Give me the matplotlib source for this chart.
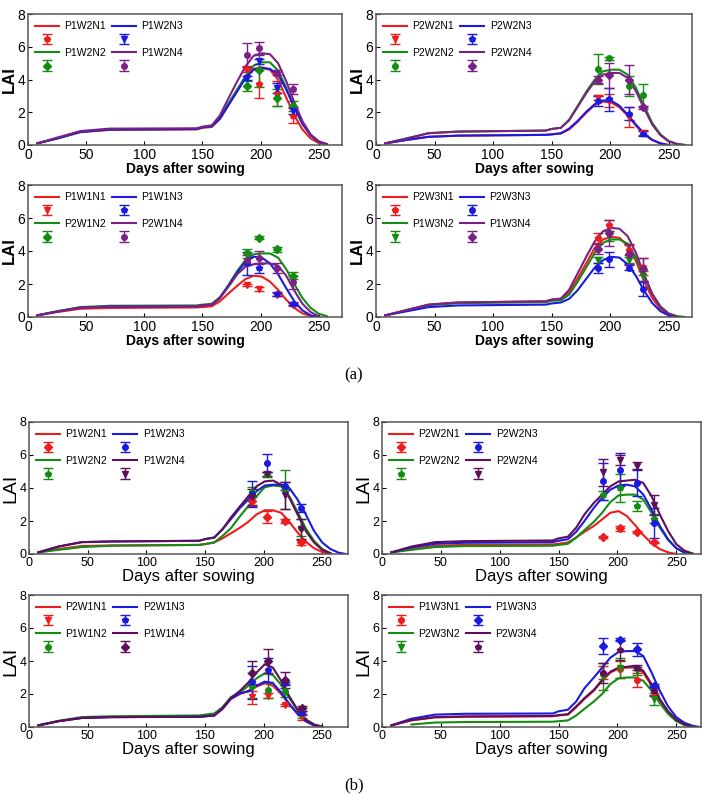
import numpy as np
import matplotlib.pyplot as plt

plt.rcParams['font.family'] = ['Liberation Sans', 'DejaVu Sans']

# common day grid of the simulated curves
days = [8, 25, 45, 70, 145, 150, 158, 165, 172, 180, 187, 194, 201, 208, 215,
        222, 229, 236, 243, 250, 257, 264, 270]
n = np.nan

# ---- (a) ----
a1_names = ['P1W2N1', 'P1W2N2', 'P1W2N3', 'P1W2N4']
a1_sim = [
    [0.1, 0.4, 0.78, 0.92, 0.95, 1.05, 1.1, 1.6, 2.4, 3.3, 4.1, 4.65, 4.75, 4.6, 4.0, 2.9, 1.8, 0.95, 0.4, 0.12, 0.02, n, n],
    [0.1, 0.4, 0.8, 0.95, 0.98, 1.08, 1.15, 1.65, 2.5, 3.4, 4.2, 4.85, 5.05, 5.05, 4.55, 3.5, 2.3, 1.3, 0.6, 0.2, 0.05, n, n],
    [0.1, 0.4, 0.8, 0.95, 0.98, 1.08, 1.15, 1.6, 2.4, 3.3, 4.1, 4.6, 4.7, 4.65, 4.3, 3.4, 2.3, 1.3, 0.6, 0.2, 0.05, n, n],
    [0.1, 0.45, 0.85, 1.0, 1.02, 1.12, 1.2, 1.8, 2.8, 3.9, 4.8, 5.45, 5.6, 5.55, 5.0, 3.9, 2.6, 1.45, 0.65, 0.22, 0.05, n, n],
]
a1_obs_days = [188, 199, 214, 228]
a1_obs = [[4.65, 3.7, 3.15, 1.8], [3.6, 4.55, 2.9, 2.4], [4.1, 5.1, 3.5, 2.1], [5.5, 5.9, 4.4, 3.4]]
a1_err = [[0.2, 0.85, 0.75, 0.45], [0.3, 1.0, 0.5, 0.3], [0.1, 0.15, 0.3, 0.2], [0.75, 0.4, 0.15, 0.3]]
a1_mk = ['p', 'D', 'v', 'o']

a2_names = ['P2W2N1', 'P2W2N2', 'P2W2N3', 'P2W2N4']
a2_sim = [
    [0.1, 0.3, 0.5, 0.57, 0.62, 0.65, 0.7, 0.95, 1.4, 2.0, 2.45, 2.65, 2.6, 2.3, 1.8, 1.2, 0.65, 0.3, 0.1, 0.0, n, n, n],
    [0.1, 0.38, 0.72, 0.82, 0.88, 0.98, 1.05, 1.55, 2.35, 3.3, 4.0, 4.5, 4.6, 4.6, 4.3, 3.5, 2.4, 1.35, 0.65, 0.25, 0.07, 0.0, n],
    [0.1, 0.3, 0.5, 0.57, 0.62, 0.65, 0.72, 1.0, 1.45, 2.05, 2.5, 2.72, 2.7, 2.4, 1.85, 1.25, 0.7, 0.32, 0.1, 0.0, n, n, n],
    [0.1, 0.38, 0.72, 0.82, 0.88, 0.98, 1.05, 1.5, 2.3, 3.2, 3.9, 4.3, 4.4, 4.4, 4.1, 3.3, 2.25, 1.25, 0.6, 0.22, 0.06, 0.0, n],
]
a2_obs_days = [190, 199, 216, 228]
a2_obs = [[2.9, 2.7, 1.7, 0.75], [4.65, 5.3, 3.6, 3.05], [2.7, 2.8, 1.9, 0.7], [4.0, 4.25, 4.0, 2.3]]
a2_err = [[0.15, 0.4, 0.6, 0.15], [0.9, 0.1, 0.6, 0.7], [0.3, 0.7, 0.4, 0.15], [0.2, 0.75, 0.9, 0.1]]
a2_mk = ['v', 'o', 'p', 'D']

a3_names = ['P1W1N1', 'P2W1N2', 'P1W1N3', 'P2W1N4']
a3_sim = [
    [0.1, 0.3, 0.5, 0.55, 0.58, 0.6, 0.65, 0.95, 1.4, 1.9, 2.3, 2.5, 2.45, 2.15, 1.65, 1.05, 0.55, 0.22, 0.06, 0.0, n, n, n],
    [0.1, 0.35, 0.6, 0.68, 0.7, 0.75, 0.8, 1.2, 1.9, 2.8, 3.45, 3.8, 3.85, 3.85, 3.6, 2.9, 2.0, 1.15, 0.55, 0.2, 0.05, n, n],
    [0.1, 0.33, 0.57, 0.63, 0.65, 0.7, 0.75, 1.15, 1.85, 2.7, 3.35, 3.65, 3.6, 3.25, 2.6, 1.75, 0.95, 0.4, 0.1, 0.0, n, n, n],
    [0.1, 0.33, 0.57, 0.63, 0.65, 0.7, 0.75, 1.15, 1.8, 2.6, 3.05, 3.2, 3.25, 3.25, 3.1, 2.5, 1.6, 0.8, 0.3, 0.05, n, n, n],
]
a3_obs_days = [188, 199, 214, 228]
a3_obs = [[1.93, 1.7, 1.35, 0.75], [3.85, 4.8, 4.1, 2.5], [3.25, 2.95, 1.4, 0.8], [3.45, 3.6, 2.95, 2.1]]
a3_err = [[0.05, 0.1, 0.1, 0.1], [0.3, 0.1, 0.15, 0.2], [0.7, 0.3, 0.1, 0.1], [0.3, 0.4, 0.3, 0.4]]
a3_mk = ['v', 'D', 'p', 'o']

a4_names = ['P2W3N1', 'P1W3N2', 'P2W3N3', 'P1W3N4']
a4_sim = [
    [0.1, 0.4, 0.75, 0.88, 0.95, 1.05, 1.1, 1.5, 2.3, 3.3, 4.2, 4.7, 4.85, 4.8, 4.3, 3.4, 2.2, 1.15, 0.5, 0.15, 0.02, n, n],
    [0.1, 0.38, 0.72, 0.84, 0.9, 0.98, 1.02, 1.35, 2.1, 3.05, 3.9, 4.5, 4.7, 4.7, 4.45, 3.6, 2.5, 1.4, 0.65, 0.22, 0.05, 0.0, n],
    [0.1, 0.33, 0.6, 0.7, 0.75, 0.82, 0.88, 1.1, 1.6, 2.35, 3.0, 3.45, 3.65, 3.6, 3.2, 2.5, 1.6, 0.85, 0.35, 0.1, 0.0, n, n],
    [0.1, 0.4, 0.75, 0.88, 0.95, 1.05, 1.12, 1.65, 2.6, 3.7, 4.6, 5.2, 5.4, 5.35, 4.9, 3.9, 2.6, 1.4, 0.6, 0.2, 0.04, n, n],
]
a4_obs_days = [190, 199, 216, 228]
a4_obs = [[4.8, 5.55, 4.05, 3.05], [3.45, 4.9, 3.45, 2.5], [2.95, 3.5, 3.0, 1.7], [4.1, 5.1, 3.8, 2.9]]
a4_err = [[0.3, 0.35, 0.3, 0.5], [0.2, 0.3, 0.2, 0.3], [0.3, 0.45, 0.15, 0.4], [0.3, 0.8, 0.6, 0.7]]
a4_mk = ['p', 'v', 'o', 'D']

# ---- (b) ----
b1_names = ['P1W2N1', 'P1W2N2', 'P1W2N3', 'P1W2N4']
b1_sim = [
    [0.1, 0.3, 0.48, 0.52, 0.55, 0.6, 0.7, 0.95, 1.25, 1.6, 1.95, 2.4, 2.65, 2.65, 2.5, 1.95, 1.3, 0.75, 0.35, 0.12, 0.02, n, n],
    [0.1, 0.25, 0.42, 0.5, 0.55, 0.6, 0.7, 1.1, 1.55, 2.3, 2.9, 3.5, 4.05, 4.15, 4.1, 3.5, 2.55, 1.55, 0.8, 0.3, 0.05, n, n],
    [0.1, 0.45, 0.72, 0.76, 0.8, 0.9, 1.0, 1.5, 2.1, 2.8, 3.3, 3.8, 4.15, 4.2, 4.2, 4.0, 3.3, 2.4, 1.4, 0.7, 0.3, 0.08, 0.0],
    [0.1, 0.45, 0.72, 0.76, 0.8, 0.9, 1.0, 1.5, 2.2, 2.9, 3.5, 4.1, 4.4, 4.45, 4.2, 3.4, 2.4, 1.4, 0.7, 0.25, 0.05, n, n],
]
b1_obs_days = [190, 203, 218, 232]
b1_obs = [[3.2, 2.25, 2.0, 0.7], [3.75, 4.8, 3.9, 1.6], [3.65, 5.5, 4.1, 2.8], [3.45, 4.85, 3.55, 1.5]]
b1_err = [[0.3, 0.35, 0.1, 0.15], [0.3, 0.15, 1.2, 0.5], [0.8, 0.55, 0.25, 0.25], [0.5, 0.1, 0.8, 0.6]]
b1_mk = ['D', 'p', 'o', 'v']

b2_names = ['P2W2N1', 'P2W2N2', 'P2W2N3', 'P2W2N4']
b2_sim = [
    [0.1, 0.3, 0.5, 0.55, 0.58, 0.62, 0.7, 1.0, 1.35, 1.7, 2.1, 2.5, 2.6, 2.3, 1.75, 1.15, 0.65, 0.3, 0.1, 0.0, n, n, n],
    [0.1, 0.25, 0.42, 0.48, 0.5, 0.55, 0.62, 1.0, 1.45, 1.95, 2.5, 3.15, 3.55, 3.6, 3.6, 3.3, 2.5, 1.6, 0.85, 0.35, 0.1, 0.0, n],
    [0.1, 0.4, 0.62, 0.68, 0.72, 0.8, 0.9, 1.35, 2.0, 2.8, 3.4, 3.9, 4.15, 4.2, 4.1, 3.6, 2.7, 1.7, 0.9, 0.35, 0.08, n, n],
    [0.1, 0.45, 0.72, 0.78, 0.82, 0.95, 1.05, 1.6, 2.4, 3.1, 3.6, 4.1, 4.4, 4.45, 4.5, 4.3, 3.5, 2.4, 1.4, 0.6, 0.2, 0.03, n],
]
b2_obs_days = [188, 202, 217, 231]
b2_obs = [[1.05, 1.55, 1.35, 0.7], [3.55, 4.0, 2.9, 2.15], [4.4, 5.1, 4.3, 1.9], [4.95, 5.7, 5.35, 2.95]]
b2_err = [[0.05, 0.15, 0.05, 0.05], [0.25, 0.85, 0.3, 0.3], [1.1, 1.0, 0.8, 0.9], [0.8, 0.3, 0.2, 0.6]]
b2_mk = ['D', 'p', 'o', 'v']

b3_names = ['P2W1N1', 'P1W1N2', 'P2W1N3', 'P1W1N4']
b3_sim = [
    [0.1, 0.35, 0.55, 0.6, 0.62, 0.65, 0.7, 1.1, 1.7, 2.0, 2.2, 2.45, 2.65, 2.5, 2.0, 1.35, 0.8, 0.35, 0.1, 0.0, n, n, n],
    [0.1, 0.37, 0.6, 0.65, 0.7, 0.75, 0.82, 1.2, 1.8, 2.1, 2.5, 2.95, 3.25, 3.15, 2.55, 1.75, 1.0, 0.45, 0.15, 0.02, n, n, n],
    [0.1, 0.35, 0.55, 0.6, 0.62, 0.65, 0.7, 1.1, 1.7, 2.05, 2.15, 2.5, 2.75, 2.65, 2.1, 1.4, 0.8, 0.35, 0.1, 0.0, n, n, n],
    [0.1, 0.35, 0.55, 0.6, 0.62, 0.65, 0.7, 1.15, 1.75, 2.2, 2.7, 3.3, 3.8, 3.6, 2.8, 1.85, 1.05, 0.45, 0.15, 0.02, n, n, n],
]
b3_obs_days = [190, 204, 218, 233]
b3_obs = [[1.8, 1.9, 1.35, 0.6], [2.5, 2.25, 2.2, 0.85], [2.7, 3.45, 2.65, 0.85], [3.3, 4.0, 2.85, 1.15]]
b3_err = [[0.4, 0.15, 0.05, 0.2], [0.75, 0.5, 0.4, 0.3], [1.0, 0.75, 0.1, 0.1], [0.7, 0.7, 0.5, 0.15]]
b3_mk = ['v', 'o', 'p', 'D']

b4_names = ['P1W3N1', 'P2W3N2', 'P1W3N3', 'P2W3N4']
b4_sim = [
    [0.1, 0.4, 0.58, 0.62, 0.65, 0.7, 0.75, 1.2, 1.7, 2.2, 2.8, 3.3, 3.55, 3.6, 3.6, 3.3, 2.5, 1.6, 0.9, 0.4, 0.15, 0.03, n],
    [n, 0.15, 0.27, 0.3, 0.32, 0.35, 0.4, 0.7, 1.1, 1.55, 2.0, 2.6, 2.95, 3.0, 3.0, 2.8, 2.2, 1.45, 0.8, 0.35, 0.12, 0.02, n],
    [0.1, 0.5, 0.75, 0.8, 0.82, 0.95, 1.05, 1.55, 2.35, 3.0, 3.6, 4.2, 4.55, 4.6, 4.6, 4.3, 3.3, 2.2, 1.25, 0.6, 0.25, 0.07, 0.0],
    [0.1, 0.42, 0.6, 0.64, 0.67, 0.72, 0.78, 1.25, 1.75, 2.25, 2.85, 3.35, 3.6, 3.65, 3.7, 3.4, 2.6, 1.7, 0.95, 0.45, 0.15, 0.03, n],
]
b4_obs_days = [188, 202, 217, 231]
b4_obs = [[3.3, 3.5, 2.85, 2.15], [3.05, 3.6, 3.4, 1.7], [4.9, 5.3, 4.7, 2.5], [3.25, 4.65, 3.6, 2.2]]
b4_err = [[0.4, 0.5, 0.45, 0.2], [0.8, 0.6, 0.25, 0.35], [0.5, 0.1, 0.4, 0.1], [0.6, 0.6, 0.15, 0.3]]
b4_mk = ['o', 'v', 'D', 'p']

colors_a = ['#ee1c1c', '#148c14', '#1a1ae0', '#7b2186']
colors_b = ['#ee1c1c', '#148c14', '#1a1ae0', '#5e0f5a']


def draw(ax, names, sim, obs_days, obs, err, mk, colors, xmax, big):
    lines, bars = [], []
    for i in range(4):
        l, = ax.plot(days, sim[i], color=colors[i], lw=1.5)
        e = ax.errorbar(obs_days, obs[i], yerr=err[i], fmt=mk[i], color=colors[i],
                        ms=4, capsize=3.5, elinewidth=1, capthick=1)
        lines.append(l)
        bars.append(e)
    handles, labels = [], []
    for i in range(4):
        handles += [lines[i], bars[i]]
        labels += [names[i], '']
    ax.legend(handles, labels, ncol=2, loc='upper left', frameon=False,
              prop={'family': ['Liberation Sans Narrow', 'Liberation Sans'], 'size': 7.5},
              handlelength=2.3, labelspacing=0.32, columnspacing=0.6,
              borderaxespad=0.3, handletextpad=0.5)
    ax.set_xlim(0, xmax)
    ax.set_ylim(0, 8)
    ax.set_xticks([0, 50, 100, 150, 200, 250])
    ax.set_yticks([0, 2, 4, 6, 8])
    ax.tick_params(direction='in', length=3, pad=2, labelsize=10 if big else 9,
                   top=False, right=False)
    for s in ax.spines.values():
        s.set_color('#555555')
        s.set_linewidth(1.1)
    if big:
        ax.set_ylabel('LAI', fontsize=12, fontweight='bold', labelpad=0)
        ax.set_xlabel('Days after sowing', fontsize=10, fontweight='bold', labelpad=0)
    else:
        ax.set_ylabel('LAI', fontsize=14, labelpad=0)
        ax.set_xlabel('Days after sowing', fontsize=12, labelpad=0)


fig = plt.figure(figsize=(7.08, 7.96), dpi=100)
H = 796.0
W = 708.0

panels = [
    (28, 14, 342, 145, a1_names, a1_sim, a1_obs_days, a1_obs, a1_err, a1_mk, colors_a, 270, True),
    (376, 14, 692, 145, a2_names, a2_sim, a2_obs_days, a2_obs, a2_err, a2_mk, colors_a, 270, True),
    (28, 185, 342, 317, a3_names, a3_sim, a3_obs_days, a3_obs, a3_err, a3_mk, colors_a, 270, True),
    (376, 185, 692, 317, a4_names, a4_sim, a4_obs_days, a4_obs, a4_err, a4_mk, colors_a, 270, True),
    (29, 422, 348, 554, b1_names, b1_sim, b1_obs_days, b1_obs, b1_err, b1_mk, colors_b, 272, False),
    (382, 422, 701, 554, b2_names, b2_sim, b2_obs_days, b2_obs, b2_err, b2_mk, colors_b, 271, False),
    (29, 595, 348, 727, b3_names, b3_sim, b3_obs_days, b3_obs, b3_err, b3_mk, colors_b, 272, False),
    (382, 595, 701, 727, b4_names, b4_sim, b4_obs_days, b4_obs, b4_err, b4_mk, colors_b, 271, False),
]

for (x0, y0, x1, y1, nm, sm, od, ob, er, mk, cl, xm, big) in panels:
    ax = fig.add_axes([x0 / W, 1 - y1 / H, (x1 - x0) / W, (y1 - y0) / H])
    draw(ax, nm, sm, od, ob, er, mk, cl, xm, big)

fig.text(354 / W, 1 - 375 / H, '(a)', ha='center', va='center', fontsize=12,
         family=['Liberation Serif', 'DejaVu Serif'])
fig.text(354 / W, 1 - 785 / H, '(b)', ha='center', va='center', fontsize=12,
         family=['Liberation Serif', 'DejaVu Serif'])

fig.savefig('out.png', dpi=100)
